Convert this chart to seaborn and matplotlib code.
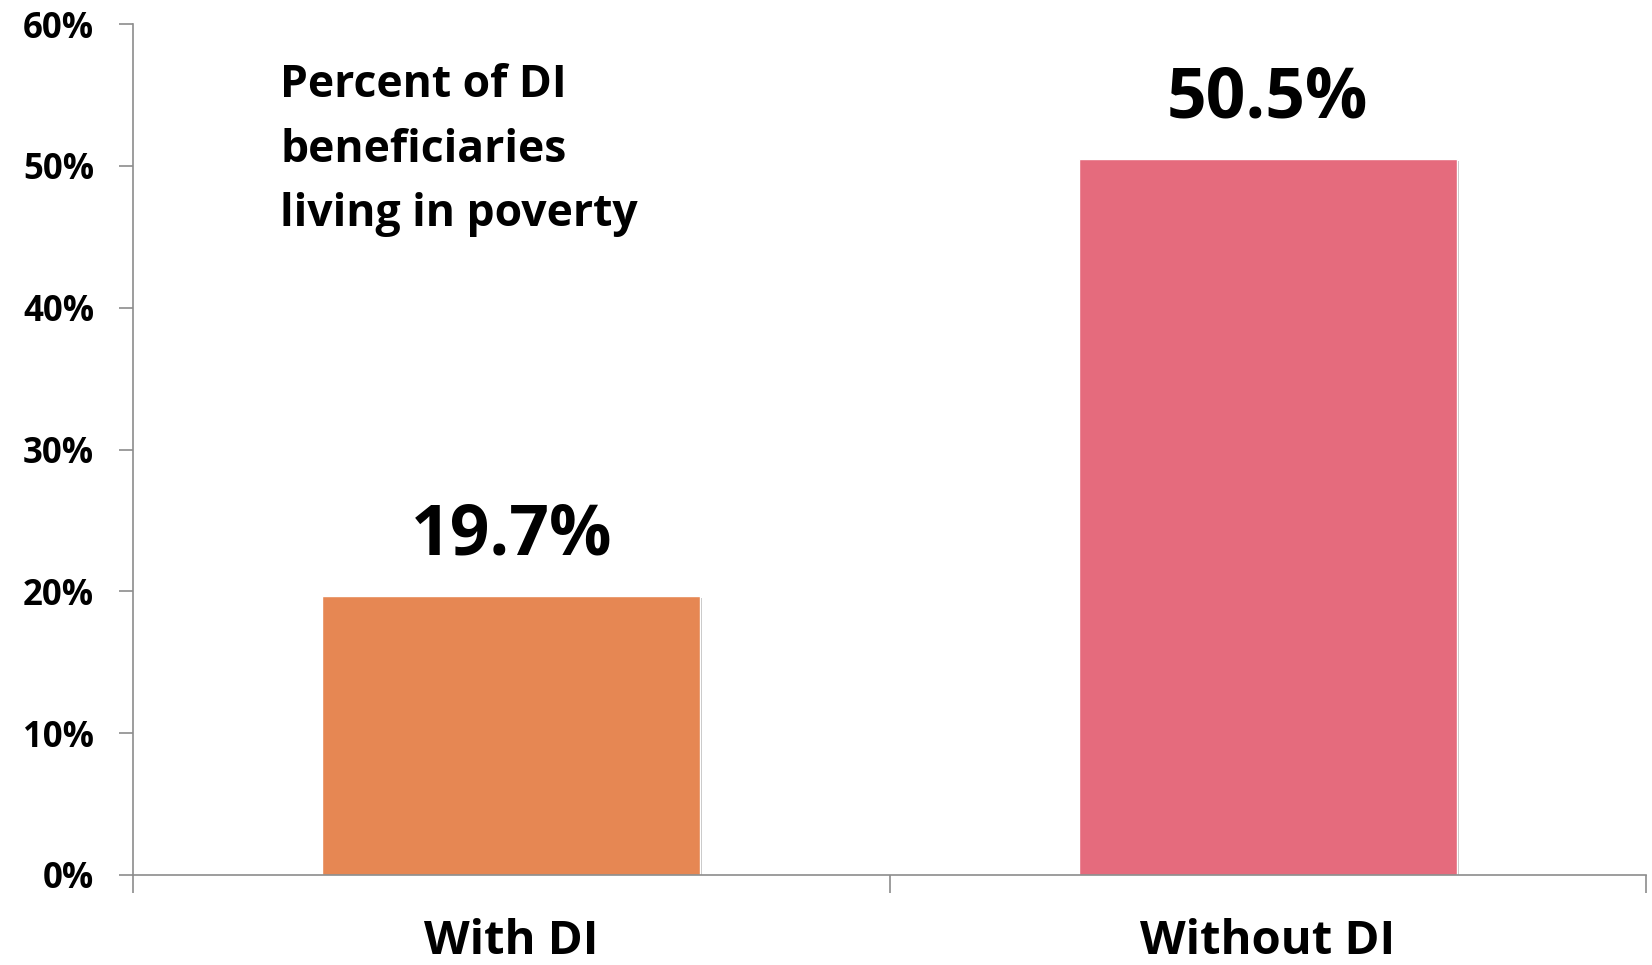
import matplotlib
matplotlib.use("Agg")
import matplotlib.pyplot as plt
import matplotlib.patheffects as pe
import seaborn as sns
import pandas as pd

categories = ["With DI", "Without DI"]
values = [19.7, 50.5]
labels = ["19.7%", "50.5%"]
colors = ["#E68753", "#E56B7D"]
yticks = [0, 10, 20, 30, 40, 50, 60]
ytick_labels = ["0%", "10%", "20%", "30%", "40%", "50%", "60%"]
note = "Percent of DI\nbeneficiaries\nliving in poverty"

sns.set_theme(style="white")
plt.rcParams["font.family"] = ["Open Sans", "DejaVu Sans"]
plt.rcParams["font.weight"] = "bold"
plt.rcParams["text.color"] = "black"
plt.rcParams["xtick.labelcolor"] = "black"
plt.rcParams["ytick.labelcolor"] = "black"

df = pd.DataFrame({"cat": categories, "val": values})

fig = plt.figure(figsize=(16.52, 9.65), dpi=100)
ax = fig.add_axes([133/1652, 1 - 875/965, (1646 - 133)/1652, (875 - 24)/965])

sns.barplot(data=df, x="cat", y="val", hue="cat", palette=colors, width=0.5,
            legend=False, ax=ax, saturation=1)
for p in ax.patches:
    p.set_path_effects([pe.SimplePatchShadow(offset=(1.5, -1.5), alpha=0.25, shadow_rgbFace="black"), pe.Normal()])

ax.set_xlim(-0.5, 1.5)
ax.set_ylim(0, 60)
ax.set_yticks(yticks)
ax.set_yticklabels(ytick_labels, fontsize=25, fontweight="bold", color="black")
ax.set_xticks([-0.5, 0.5, 1.5], minor=False)
ax.set_xticklabels(["", "", ""])
ax.set_xticks([0, 1], minor=True)
ax.set_xticklabels(categories, minor=True, fontsize=34, fontweight="bold", color="black")
ax.tick_params(axis="x", which="major", direction="out", length=13, width=1.2, color="#8c8c8c", bottom=True)
ax.tick_params(axis="x", which="minor", length=0, pad=31)
ax.tick_params(axis="y", direction="out", length=10, width=1.2, color="#8c8c8c", left=True, pad=18)
ax.set_xlabel("")
ax.set_ylabel("")

for s in ["top", "right"]:
    ax.spines[s].set_visible(False)
for s in ["left", "bottom"]:
    ax.spines[s].set_color("#8c8c8c")
    ax.spines[s].set_linewidth(1.2)

for i, (v, lab) in enumerate(zip(values, labels)):
    ax.text(i, v + 1.7, lab, ha="center", va="bottom", fontsize=50, fontweight="bold", color="black")

fig.text(280/1652, 1 - 63/965, note, ha="left", va="top", fontsize=32, fontweight="bold",
         color="black", linespacing=1.58)

fig.savefig("out.png", dpi=100, facecolor="white")
